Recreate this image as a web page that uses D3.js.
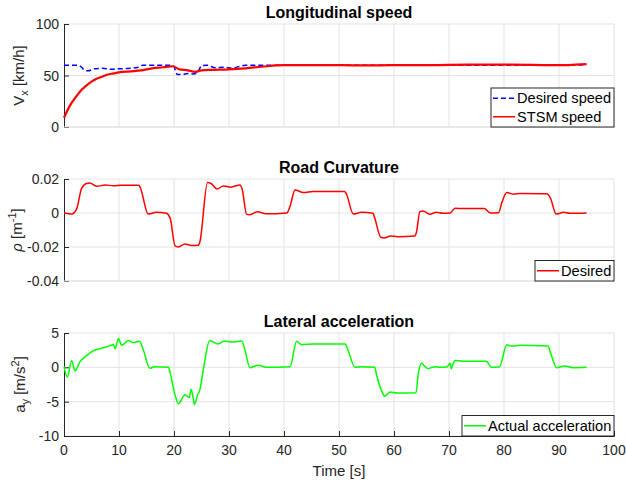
<!DOCTYPE html>
<html>
<head>
<meta charset="utf-8">
<script src="https://cdn.jsdelivr.net/npm/d3@7"></script>
<style>
  body { margin: 0; background: #fff; }
  text { font-family: "Liberation Sans", Arial, sans-serif; fill: #262626; }
</style>
</head>
<body>
<div class="canvas"></div>
<script>
// ---- data ----
const xTicks = [0, 10, 20, 30, 40, 50, 60, 70, 80, 90, 100];

const speedTicks = [0, 50, 100];
const desiredT = [0, 2.5, 3.2, 3.8, 4.4, 5.5, 7, 8.5, 10, 12, 13.5, 14.3, 16, 19.5, 20, 20.6, 21.5, 22.5, 23.5, 24.3, 25, 26, 27.5, 29, 30.5, 32, 33, 40, 50, 60, 70, 80, 90, 95];
const desiredV = [60, 60, 58, 55, 54.5, 56.5, 57, 56, 56.5, 57, 58, 60, 60, 60, 58.5, 51, 51, 52, 51.5, 53, 59.5, 60, 57.5, 58, 57, 59, 60, 60, 60, 60, 60, 60, 60, 60.5];
const stsmT = [0, 1, 2, 3, 4, 5, 6, 7, 8, 9, 10, 12, 14, 16, 18, 19.8, 21, 22.5, 23.8, 25, 27, 30, 33, 36, 40, 45, 50, 55, 60, 65, 70, 75, 80, 85, 90, 93, 95];
const stsmV = [9, 20, 28, 35, 40, 44, 47, 49, 51, 52, 53, 54, 55, 57, 58, 59, 56, 55, 53.5, 55, 55.5, 56, 57, 58.5, 60, 60, 60, 59.8, 60, 60, 60.3, 60.5, 60.5, 60.3, 60, 60.5, 61];

const rhoTicks = [-0.04, -0.02, 0, 0.02];
const rhoT = [0, 1.4, 2.3, 3.2, 4.1, 4.7, 5.9, 7.5, 9, 10.3, 13.6, 13.9, 15.3, 16.8, 18.6, 19.3, 20.2, 20.8, 22, 23.2, 24.4, 24.7, 26.1, 26.8, 27.8, 29, 30.3, 32, 32.4, 33.2, 33.8, 35.2, 36.7, 40.5, 41.1, 42, 43.5, 45.3, 51, 51.3, 52.6, 54.1, 56.2, 56.5, 57.6, 58.2, 59.4, 60.6, 63.8, 64.1, 64.7, 65.3, 66.5, 67.7, 68.9, 70.2, 71.1, 72.5, 76.4, 77.5, 79, 79.6, 80.5, 81.7, 82.9, 87.8, 88.4, 89.5, 90.8, 92, 95];
const rhoV = [0, -0.0006, 0.0024, 0.0145, 0.0174, 0.0176, 0.0157, 0.0165, 0.016, 0.0163, 0.0163, 0.0147, -0.0006, 0.0004, -0.0002, -0.003, -0.0194, -0.02, -0.0182, -0.0191, -0.019, -0.017, 0.018, 0.0172, 0.0141, 0.0159, 0.0152, 0.0165, 0.014, -0.0008, -0.001, 0.0008, -0.0005, 0, 0.004, 0.0136, 0.012, 0.0127, 0.0127, 0.0115, -0.0006, 0.0004, -0.0002, -0.003, -0.0143, -0.0147, -0.0135, -0.0139, -0.0135, -0.011, 0.0008, 0.0012, -0.0007, 0.0004, -0.0002, 0, 0.0028, 0.0026, 0.0026, 0, 0.0002, 0.006, 0.012, 0.0111, 0.0115, 0.0113, 0.009, -0.0006, 0.0004, -0.0002, 0];

const accTicks = [-10, -5, 0, 5];
const accT = [0, 0.6, 1.4, 2.0, 2.9, 4.1, 5.3, 6.5, 7.8, 9.0, 9.3, 9.9, 10.5, 11.7, 12.6, 13.7, 14.4, 15.6, 16.5, 19, 19.3, 20.2, 20.8, 22, 22.8, 23.1, 23.5, 23.7, 24.3, 24.7, 25.3, 26.5, 28, 29.2, 30.7, 32.3, 32.9, 33.8, 35.3, 36.8, 41.1, 42.3, 43.2, 45.3, 51.1, 51.6, 52.9, 54, 56.5, 56.8, 58.1, 58.3, 59.3, 60.5, 64, 64.4, 65, 65.4, 66.2, 67.4, 68.5, 69.6, 70.2, 70.4, 70.7, 71.1, 72.5, 76.8, 77.7, 79.2, 80.5, 81.3, 82.9, 88, 88.5, 89.6, 91, 92.5, 95];
const accV = [0.1, -1.4, 0.95, -0.5, 0.8, 1.7, 2.4, 2.7, 3.0, 3.3, 2.7, 4.2, 3.2, 3.9, 3.6, 3.8, 2.6, -0.15, 0.1, 0, -0.8, -4.05, -5.3, -4.0, -4.4, -3.2, -4.5, -5.4, -4.0, -3.3, -0.5, 3.9, 3.4, 3.85, 3.7, 3.85, 2.5, -0.05, 0.3, 0, 0.1, 3.8, 3.3, 3.4, 3.4, 2.6, 0, 0.1, 0, -1.0, -4.0, -4.2, -3.6, -3.75, -3.7, -1.0, 0.6, 0.3, -0.2, 0.1, 0, 0.05, 0.6, -0.2, 0.4, 1.0, 0.9, 0.9, 0, 0.1, 3.3, 3.1, 3.2, 3.1, 2.0, -0.05, 0.2, -0.05, 0];

// ---- layout ----
const width = 626, height = 483;
const left = 64, right = 614;

const svg = d3.select('.canvas').append('svg')
  .attr('width', width)
  .attr('height', height);

const x = d3.scaleLinear().domain([0, 100]).range([left, right]);

const zip = (t, v) => t.map((d, i) => ({t: d, v: v[i]}));

const drawPanel = function(cfg) {
  const y = d3.scaleLinear().domain(cfg.domain).range([cfg.bottom, cfg.top]);
  const g = svg.append('g');

  // grid
  g.selectAll('.vgrid').data(xTicks.slice(1)).enter().append('line')
    .attr('x1', d => x(d)).attr('x2', d => x(d))
    .attr('y1', cfg.top).attr('y2', cfg.bottom)
    .attr('stroke', '#e3e3e3').attr('stroke-width', 1);
  g.selectAll('.hgrid').data(cfg.ticks).enter().append('line')
    .attr('x1', left).attr('x2', right)
    .attr('y1', d => y(d)).attr('y2', d => y(d))
    .attr('stroke', '#e3e3e3').attr('stroke-width', 1);

  // y axis (ticks inward)
  const yAxis = d3.axisRight(y).tickValues(cfg.ticks).tickSize(5).tickFormat('');
  g.append('g').attr('transform', `translate(${left},0)`).call(yAxis)
    .call(s => s.select('.domain').attr('stroke', '#262626'))
    .call(s => s.selectAll('.tick line').attr('stroke', '#262626'));
  g.selectAll('.ylab').data(cfg.ticks).enter().append('text')
    .attr('x', left - 5).attr('y', d => y(d) + 5)
    .attr('text-anchor', 'end').style('font-size', '14px')
    .text(cfg.fmt);

  // x axis only on bottom panel
  if (cfg.xaxis) {
    const xAxis = d3.axisTop(x).tickValues(xTicks).tickSize(5).tickFormat('');
    g.append('g').attr('transform', `translate(0,${cfg.bottom})`).call(xAxis)
      .call(s => s.select('.domain').attr('stroke', '#262626'))
      .call(s => s.selectAll('.tick line').attr('stroke', '#262626'));
    g.selectAll('.xlab').data(xTicks).enter().append('text')
      .attr('x', d => x(d)).attr('y', cfg.bottom + 19)
      .attr('text-anchor', 'middle').style('font-size', '14px')
      .text(d => d);
  } else {
    g.append('line')
      .attr('x1', left).attr('x2', right)
      .attr('y1', cfg.bottom).attr('y2', cfg.bottom)
      .attr('stroke', '#e3e3e3');
  }

  // title
  g.append('text')
    .attr('x', (left + right) / 2).attr('y', cfg.top - 6)
    .attr('text-anchor', 'middle')
    .style('font-size', '16px').style('font-weight', 'bold')
    .style('fill', '#000')
    .text(cfg.title);

  // y label with sub/superscript
  const yl = g.append('text')
    .attr('transform', `translate(${cfg.labelX},${(cfg.top + cfg.bottom) / 2}) rotate(-90)`)
    .attr('text-anchor', 'middle').style('font-size', '15px');
  cfg.label.forEach(p => {
    yl.append('tspan')
      .attr('dy', p.dy || 0)
      .style('font-size', p.small ? '11px' : '15px')
      .style('font-style', p.italic ? 'italic' : 'normal')
      .text(p.s);
  });

  // lines
  const line = d3.line()
    .x(d => x(d.t))
    .y(d => y(d.v))
    .curve(d3.curveMonotoneX);

  cfg.series.forEach(s => {
    g.append('path')
      .datum(zip(s.t, s.v))
      .attr('fill', 'none')
      .attr('stroke', s.color)
      .attr('stroke-width', s.width)
      .attr('stroke-dasharray', s.dash || null)
      .attr('d', line);
  });

  // legend
  const lg = g.append('g');
  const lh = 18.5;
  const lw = cfg.legendW;
  const lx = right - lw;
  const ly = cfg.bottom - cfg.series.length * lh - 2;
  lg.append('rect')
    .attr('x', lx).attr('y', ly)
    .attr('width', lw).attr('height', cfg.series.length * lh + 2)
    .attr('fill', '#fff').attr('stroke', '#262626').attr('stroke-width', 1);
  cfg.series.forEach((s, i) => {
    const cy = ly + 1 + lh * i + lh / 2;
    lg.append('line')
      .attr('x1', lx + 2).attr('x2', lx + 24)
      .attr('y1', cy).attr('y2', cy)
      .attr('stroke', s.color).attr('stroke-width', 1.5)
      .attr('stroke-dasharray', s.dash || null);
    lg.append('text')
      .attr('x', lx + 26).attr('y', cy + 5)
      .style('font-size', '14.6px').style('fill', '#000')
      .text(s.name);
  });
};

drawPanel({
  top: 24, bottom: 127, domain: [0, 100], ticks: speedTicks,
  fmt: d => d, title: 'Longitudinal speed', labelX: 24,
  label: [{s: 'V'}, {s: 'x', small: true, dy: 4}, {s: ' [km/h]', dy: -4}],
  legendW: 123,
  series: [
    {t: desiredT, v: desiredV, color: '#0000ff', width: 1.5, dash: '5,3', name: 'Desired speed'},
    {t: stsmT, v: stsmV, color: '#ff0000', width: 2.2, name: 'STSM speed'}
  ]
});

drawPanel({
  top: 179, bottom: 281, domain: [-0.04, 0.02], ticks: rhoTicks,
  fmt: d => d === 0 ? '0' : d3.format('.2f')(d).replace('−', '-'), title: 'Road Curvature', labelX: 22,
  label: [{s: 'ρ', italic: true}, {s: ' [m'}, {s: '-1', small: true, dy: -6}, {s: ']', dy: 6}],
  legendW: 79,
  series: [
    {t: rhoT, v: rhoV, color: '#ff0000', width: 1.5, name: 'Desired'}
  ]
});

drawPanel({
  top: 333, bottom: 436, domain: [-10, 5], ticks: accTicks,
  fmt: d => d, title: 'Lateral acceleration', labelX: 25, xaxis: true,
  label: [{s: 'a'}, {s: 'y', small: true, dy: 4}, {s: ' [m/s', dy: -4}, {s: '2', small: true, dy: -6}, {s: ']', dy: 6}],
  legendW: 152,
  series: [
    {t: accT, v: accV, color: '#00ff00', width: 1.5, name: 'Actual acceleration'}
  ]
});

svg.append('text')
  .attr('x', (left + right) / 2).attr('y', 476)
  .attr('text-anchor', 'middle').style('font-size', '15px')
  .text('Time [s]');
</script>
</body>
</html>
